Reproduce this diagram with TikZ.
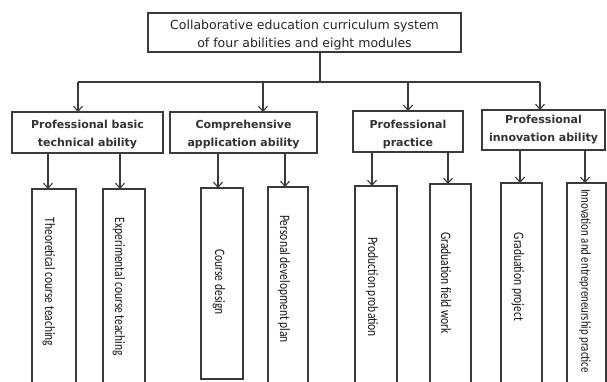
\documentclass[tikz,border=0pt]{standalone}
\usepackage{fontspec}
\setmainfont{DejaVu Sans}
\newfontfamily\narrowfont[FakeStretch=0.8]{Carlito}
\usetikzlibrary{arrows.meta}
\definecolor{linegray}{HTML}{3A3A3A}
\begin{document}
\begin{tikzpicture}[x=1pt,y=-1pt,
  box/.style={draw=linegray, line width=1.1pt, rectangle, inner sep=0pt, outer sep=0pt},
  toptext/.style={font=\fontsize{12.5}{18}\selectfont, align=center, text=black!85},
  midtext/.style={font=\fontsize{11}{18}\selectfont\bfseries, align=center, text=black!80},
  vtext/.style={font=\narrowfont\fontsize{14.4}{16}\selectfont, rotate=-90, text=black!90, inner sep=0pt},
  line/.style={draw=linegray, line width=1.1pt},
  arr/.style={draw=linegray, line width=1.1pt, -{Straight Barb[length=5pt,width=9pt,line width=1.1pt]}}]
\useasboundingbox (0,0) rectangle (607,381);
\clip (0,0) rectangle (607,381);
\fill[white] (0,0) rectangle (607,381);

% top box
\node[box, minimum width=313pt, minimum height=39pt] (top) at (304.5,32.5) {};
\node[toptext] (toplbl) at (304.5,35) {Collaborative education curriculum system\\of four abilities and eight modules};

% level 2 boxes
\node[box, minimum width=151pt, minimum height=41pt] (b1) at (87.5,132.5) {};
\node[box, minimum width=147pt, minimum height=41pt] (b2) at (243.5,132.5) {};
\node[box, minimum width=110pt, minimum height=41pt] (b3) at (408,131.5) {};
\node[box, minimum width=123pt, minimum height=40pt] (b4) at (543.5,130) {};
\node[midtext] (l1) at (87.5,135) {Professional basic\\technical ability};
\node[midtext] (l2) at (243.5,135) {Comprehensive\\application ability};
\node[midtext] (l3) at (408,134) {Professional\\practice};
\node[midtext] (l4) at (543.5,130) {Professional\\innovation ability};

% connectors top -> level 2
\coordinate (j) at (320,82);
\coordinate (jl) at (78,82);
\coordinate (jr) at (540,82);
\draw[line] (top.south -| j) -- (j);
\draw[line] (jl) -- (jr);
\draw[arr] (jl) -- (b1.north -| jl);
\coordinate (j2) at (263,82);
\draw[arr] (j2) -- (b2.north -| j2);
\coordinate (j3) at (408,82);
\draw[arr] (j3) -- (b3.north -| j3);
\draw[arr] (jr) -- (b4.north -| jr);

% bottom boxes
\node[box, minimum width=44pt, minimum height=206pt] (a) at (54,292) {};
\node[box, minimum width=42pt, minimum height=206pt] (b) at (124,292) {};
\node[box, minimum width=42pt, minimum height=191pt] (c) at (222,283.5) {};
\node[box, minimum width=40pt, minimum height=208pt] (d) at (288,291) {};
\node[box, minimum width=42pt, minimum height=209pt] (e) at (376,290.5) {};
\node[box, minimum width=41pt, minimum height=211pt] (f) at (450.5,289.5) {};
\node[box, minimum width=41pt, minimum height=212pt] (g) at (521.5,289) {};
\node[box, minimum width=39pt, minimum height=212pt] (h) at (586.5,289) {};

\node[vtext] (ta) at (49,282) {Theoretical course teaching};
\node[vtext] (tb) at (119,287) {Experimental course teaching};
\node[vtext] (tc) at (219,282) {Course design};
\node[vtext] (td) at (284,279) {Personal development plan};
\node[vtext] (te) at (372,287) {Production probation};
\node[vtext] (tf) at (446,283) {Graduation field work};
\node[vtext] (tg) at (518,277) {Graduation project};
\node[vtext, font=\narrowfont\fontsize{13.6}{16}\selectfont] (th) at (585,281) {Innovation and entrepreneurship practice};

% connectors level 2 -> bottom
\coordinate (xa) at (48,0);
\coordinate (xb) at (120,0);
\coordinate (xc) at (218,0);
\coordinate (xd) at (285,0);
\coordinate (xe) at (372,0);
\coordinate (xf) at (448,0);
\coordinate (xg) at (520,0);
\coordinate (xh) at (585,0);
\draw[arr] (b1.south -| xa) -- (a.north -| xa);
\draw[arr] (b1.south -| xb) -- (b.north -| xb);
\draw[arr] (b2.south -| xc) -- (c.north -| xc);
\draw[arr] (b2.south -| xd) -- (d.north -| xd);
\draw[arr] (b3.south -| xe) -- (e.north -| xe);
\draw[arr] (b3.south -| xf) -- (f.north -| xf);
\draw[arr] (b4.south -| xg) -- (g.north -| xg);
\draw[arr] (b4.south -| xh) -- (h.north -| xh);
\end{tikzpicture}
\end{document}
